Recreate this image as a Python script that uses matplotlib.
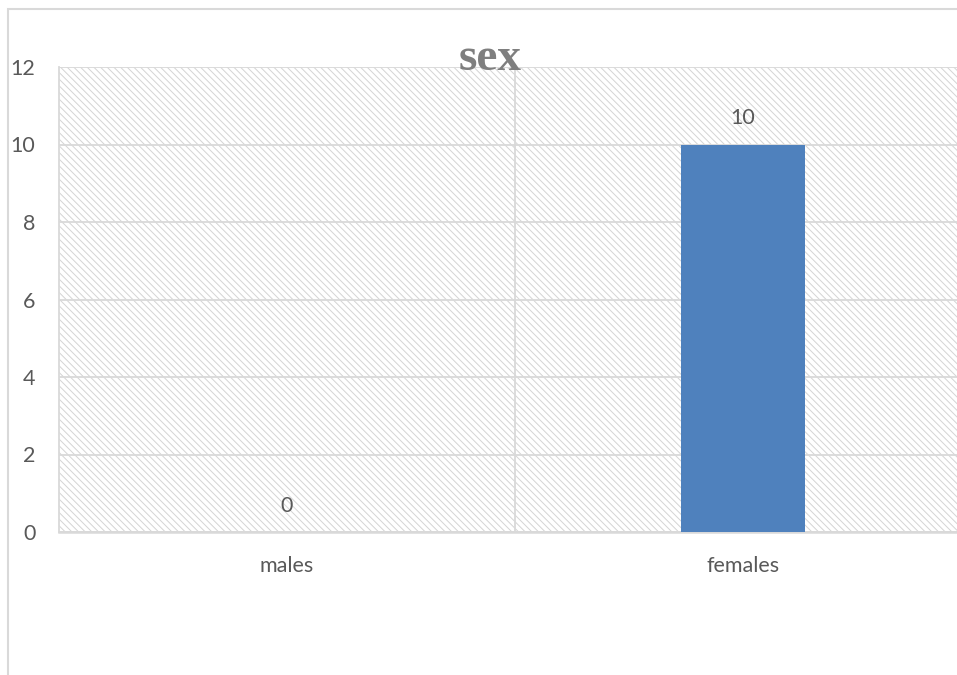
import matplotlib
matplotlib.use("Agg")
from matplotlib import pyplot as plt
from matplotlib.patches import Rectangle

categories = ["males", "females"]
counts = [0, 10]
y_ticks = [0, 2, 4, 6, 8, 10, 12]

grey_text = "#595959"
grid_col = "#d9d9d9"
bar_col = "#4f81bd"

plt.rcParams["font.family"] = ["Lato", "DejaVu Sans"]
plt.rcParams["hatch.linewidth"] = 0.7

fig = plt.figure(figsize=(9.57, 6.75), dpi=100)
ax = fig.add_axes([59 / 957, 1 - 532 / 675, 912 / 957, 465 / 675])

# hatched plot area background
ax.add_patch(Rectangle((0, 0), 1, 1, transform=ax.transAxes, facecolor="white",
                       edgecolor="#d4d4d4", linewidth=0, hatch="\\\\\\\\\\", zorder=0))

x = list(range(len(categories)))
ax.bar(x, counts, width=0.27, color=bar_col, zorder=3)

for xi, v in zip(x, counts):
    ax.annotate(str(v), (xi, v), xytext=(0, 19), textcoords="offset points",
                ha="center", va="center", fontsize=15.5, color=grey_text, zorder=4)

ax.set_xlim(-0.5, 1.5)
ax.set_ylim(0, 12)
ax.set_yticks(y_ticks)
ax.set_xticks(x)
ax.set_xticklabels(categories)
ax.tick_params(axis="both", length=0, labelsize=15.5, labelcolor=grey_text)
ax.tick_params(axis="y", pad=17)
ax.tick_params(axis="x", pad=17)

ax.grid(axis="y", color=grid_col, linewidth=1.3, zorder=1)
ax.axvline(0.5, color=grid_col, linewidth=1.3, zorder=1)
ax.set_axisbelow(True)
for side in ["top", "right"]:
    ax.spines[side].set_visible(False)
ax.spines["left"].set_color(grid_col)
ax.spines["left"].set_linewidth(1.3)
ax.spines["bottom"].set_color(grid_col)
ax.spines["bottom"].set_linewidth(1.8)

fig.text(490 / 957, 1 - 70 / 675, "sex", ha="center", va="baseline", fontsize=34,
         fontweight="bold", color="#7f7f7f", family="Liberation Serif")

# outer chart border (runs off the right and bottom edge)
fig.add_artist(Rectangle((8 / 957, -0.1), 2, 1 - 9 / 675 + 0.1, transform=fig.transFigure,
                         fill=False, edgecolor=grid_col, linewidth=1.5))

fig.savefig("out.png", dpi=100)
